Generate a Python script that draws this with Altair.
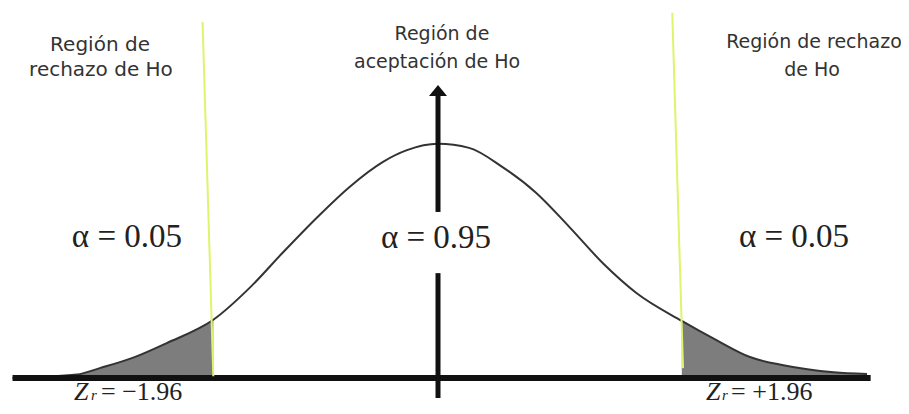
import altair as alt
import pandas as pd

# ---- data (z units, density-like units) ----
curve_z = [-3.56, -3.02, -2.83, -2.55, -2.27, -1.88, -1.57, -1.30, -1.01, -0.74, -0.46, -0.26,
           0.0, 0.26, 0.54, 0.82, 1.10, 1.38, 1.66, 2.04, 2.33, 2.61, 2.89, 3.31, 3.59]
curve_d = [0.000, 0.006, 0.017, 0.035, 0.060, 0.100, 0.156, 0.215, 0.276, 0.328, 0.371, 0.391,
           0.402, 0.395, 0.362, 0.318, 0.259, 0.197, 0.146, 0.098, 0.065, 0.036, 0.022, 0.010, 0.007]
left_cut = -1.88
right_cut = 2.04

cut_x_top = [-1.97, 1.96]
cut_y_top = [0.611, 0.627]
cut_x_bot = [-1.88, 2.05]
cut_y_bot = [0.003, 0.017]

sans_labels = ["Región de", "rechazo de Ho", "Región de", "aceptación de Ho", "Región de rechazo", "de Ho"]
sans_x = [-2.828, -2.820, 0.033, -0.008, 3.146, 3.130]
sans_y = [0.571, 0.529, 0.590, 0.542, 0.577, 0.529]
sans_fs = [20, 20, 19, 19, 19, 19]

alpha_labels = ["α = 0.05", "α = 0.95", "α = 0.05"]
alpha_x = [-2.603, -0.017, 2.979]
alpha_y = [0.242, 0.240, 0.242]

z_x = [-3.046, 2.243]
r_x = [-2.904, 2.377]
eq_x = [-2.820, 2.452]
eq_labels = ["= −1.96", "= +1.96"]
z_y = -0.0378

XD = [-3.598, 3.874]
YD = [-0.048, 0.635]
xs = alt.Scale(domain=XD, nice=False, zero=False)
ys = alt.Scale(domain=YD, nice=False, zero=False)

curve = pd.DataFrame({"z": curve_z, "d": curve_d})
tails = pd.concat([
    curve[curve.z <= left_cut].assign(side="L"),
    curve[curve.z >= right_cut].assign(side="R"),
])
cuts = pd.DataFrame({"x": cut_x_top, "y": cut_y_top, "x2": cut_x_bot, "y2": cut_y_bot})
base = pd.DataFrame({"x": [curve_z[0]], "x2": [3.62], "y": [0.0]})
shaft = pd.DataFrame({"x": [0, 0], "y": [0.484, 0.180], "y2": [0.285, -0.0343]})
head = pd.DataFrame({"x": [0], "y": [0.4934]})
sans = pd.DataFrame({"x": sans_x, "y": sans_y, "t": sans_labels, "fs": sans_fs})
alph = pd.DataFrame({"x": alpha_x, "y": alpha_y, "t": alpha_labels})
zdf = pd.DataFrame({"x": z_x, "y": [z_y, z_y], "t": ["Z", "Z"]})
rdf = pd.DataFrame({"x": r_x, "y": [z_y, z_y], "t": ["r", "r"]})
edf = pd.DataFrame({"x": eq_x, "y": [z_y, z_y], "t": eq_labels})

X = lambda f="x": alt.X(f"{f}:Q", scale=xs, axis=None)
Y = lambda f="y": alt.Y(f"{f}:Q", scale=ys, axis=None)

shade = alt.Chart(tails).mark_area(interpolate="monotone", color="#7d7d7d").encode(
    x=X("z"), y=Y("d"), y2=alt.datum(0), detail="side:N")
line = alt.Chart(curve).mark_line(interpolate="monotone", color="#333333", strokeWidth=2).encode(
    x=X("z"), y=Y("d"))
baseline = alt.Chart(base).mark_rule(color="#111111", strokeWidth=6).encode(
    x=X(), x2="x2:Q", y=Y())
cutlines = alt.Chart(cuts).mark_rule(color="#e0f36c", strokeWidth=2).encode(
    x=X(), x2="x2:Q", y=Y(), y2="y2:Q")
shafts = alt.Chart(shaft).mark_rule(color="#111111", strokeWidth=5).encode(
    x=X(), y=Y(), y2="y2:Q")
arrow = alt.Chart(head).mark_point(shape="M0,-0.6L1,0.6L-1,0.6Z", filled=True, size=324,
                                   color="#111111", opacity=1).encode(x=X(), y=Y())
sans_t = alt.Chart(sans).mark_text(font="DejaVu Sans", color="#333333", baseline="middle",
                                   align="center").encode(
    x=X(), y=Y(), text="t:N", size=alt.Size("fs:Q", scale=None, legend=None))
alpha_t = alt.Chart(alph).mark_text(font="Liberation Serif", fontSize=33, color="#222222",
                                    baseline="middle", align="center").encode(
    x=X(), y=Y(), text="t:N")
z_t = alt.Chart(zdf).mark_text(font="Liberation Serif", fontSize=26, fontStyle="italic",
                               color="#222222", baseline="alphabetic", align="left").encode(
    x=X(), y=Y(), text="t:N")
r_t = alt.Chart(rdf).mark_text(font="Liberation Serif", fontSize=15, fontStyle="italic",
                               color="#222222", baseline="alphabetic", align="left").encode(
    x=X(), y=Y(), text="t:N")
e_t = alt.Chart(edf).mark_text(font="Liberation Serif", fontSize=26,
                               color="#222222", baseline="alphabetic", align="left").encode(
    x=X(), y=Y(), text="t:N")

chart = alt.layer(shade, line, baseline, cutlines, shafts, arrow, sans_t, alpha_t, z_t, r_t, e_t).properties(
    width=893, height=398, padding=0, autosize=alt.AutoSizeParams(type="none"),
    background="white",
).configure_view(stroke=None)

chart.save("out.html", embed_options={"renderer": "svg", "actions": False})
